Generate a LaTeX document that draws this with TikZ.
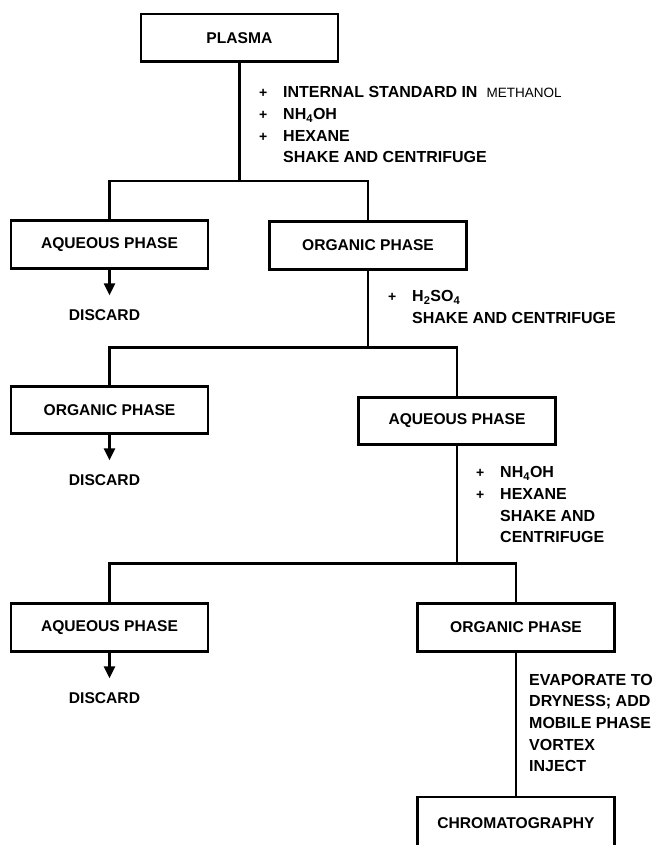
\documentclass[tikz,border=0pt]{standalone}
\usepackage{fontspec}
\setmainfont{Liberation Sans}
\usetikzlibrary{arrows.meta}
\newcommand{\pl}{\llap{{\fontsize{14}{14}\selectfont +}\hspace{16pt}}}

\begin{document}
\begin{tikzpicture}[
  x=10pt, y=-10pt,
  bx/.style={draw, line width=2.6pt, minimum width=197pt, minimum height=47.5pt,
             inner sep=0pt, font=\bfseries\fontsize{15.6}{18}\selectfont},
  ln/.style={line width=2.4pt},
  arr/.style={line width=2.4pt, -{Triangle[width=11pt,length=12pt]}, shorten >=14pt},
  dis/.style={inner sep=0pt, font=\bfseries\fontsize{15.6}{18}\selectfont},
  side/.style={anchor=base west, align=left, inner sep=0pt,
               font=\bfseries\fontsize{16}{21.6}\selectfont}]
  \useasboundingbox (0,0) rectangle (65.7,84.5);
  \clip (0,0) rectangle (65.7,84.5);
  \node[bx] (plasma) at (23.94,3.77) {PLASMA};
  \node[bx] (aq1)  at (10.95,24.45) {AQUEOUS PHASE};
  \node[bx] (org1) at (36.8,24.55)  {ORGANIC PHASE};
  \node[bx] (org2) at (10.95,41.0)  {ORGANIC PHASE};
  \node[bx] (aq2)  at (45.7,42.1)   {AQUEOUS PHASE};
  \node[bx] (aq3)  at (10.95,62.75) {AQUEOUS PHASE};
  \node[bx] (org3) at (51.6,62.75)  {ORGANIC PHASE};
  \node[bx, minimum height=52pt] (chrom) at (51.6,82.3) {CHROMATOGRAPHY};
  % discards
  \node[dis] (dis1) at (10.45,31.5) {DISCARD};
  \node[dis] (dis2) at (10.45,48.0) {DISCARD};
  \node[dis] (dis3) at (10.45,69.8) {DISCARD};
  % branch points
  \coordinate (j1) at (23.94,18.1);
  \coordinate (j2) at (36.8,34.75);
  \coordinate (j3) at (45.7,56.35);
  \draw[ln] (plasma) -- (j1);
  \draw[ln] (aq1.north) |- (j1) -| (org1.north);
  \draw[ln] (org1) -- (j2);
  \draw[ln] (org2.north) |- (j2) -| (aq2.north);
  \draw[ln] (aq2) -- (j3);
  \draw[ln] (aq3.north) |- (j3) -| (org3.north);
  \draw[ln] (org3) -- (chrom);
  \draw[arr] (aq1) -- (aq1 |- dis1.north);
  \draw[arr] (org2) -- (org2 |- dis2.north);
  \draw[arr] (aq3) -- (aq3 |- dis3.north);
  % reagents and steps (placed by last baseline)
  \node[side] (add1) at (28.3,16.27)
    {\pl INTERNAL STANDARD IN\hspace{9pt}{\mdseries\fontsize{13.5}{13.5}\selectfont METHANOL}\\
     \pl NH\textsubscript{4}OH\\ \pl HEXANE\\ SHAKE AND CENTRIFUGE};
  \node[side] (add2) at (41.2,32.32)
    {\pl H\textsubscript{2}SO\textsubscript{4}\\ SHAKE AND CENTRIFUGE};
  \node[side] (add3) at (50.0,54.27)
    {\pl NH\textsubscript{4}OH\\ \pl HEXANE\\ SHAKE AND\\ CENTRIFUGE};
  \node[side] (dry) at (52.9,77.17)
    {EVAPORATE TO\\ DRYNESS; ADD\\ MOBILE PHASE\\ VORTEX\\ INJECT};
\end{tikzpicture}
\end{document}
